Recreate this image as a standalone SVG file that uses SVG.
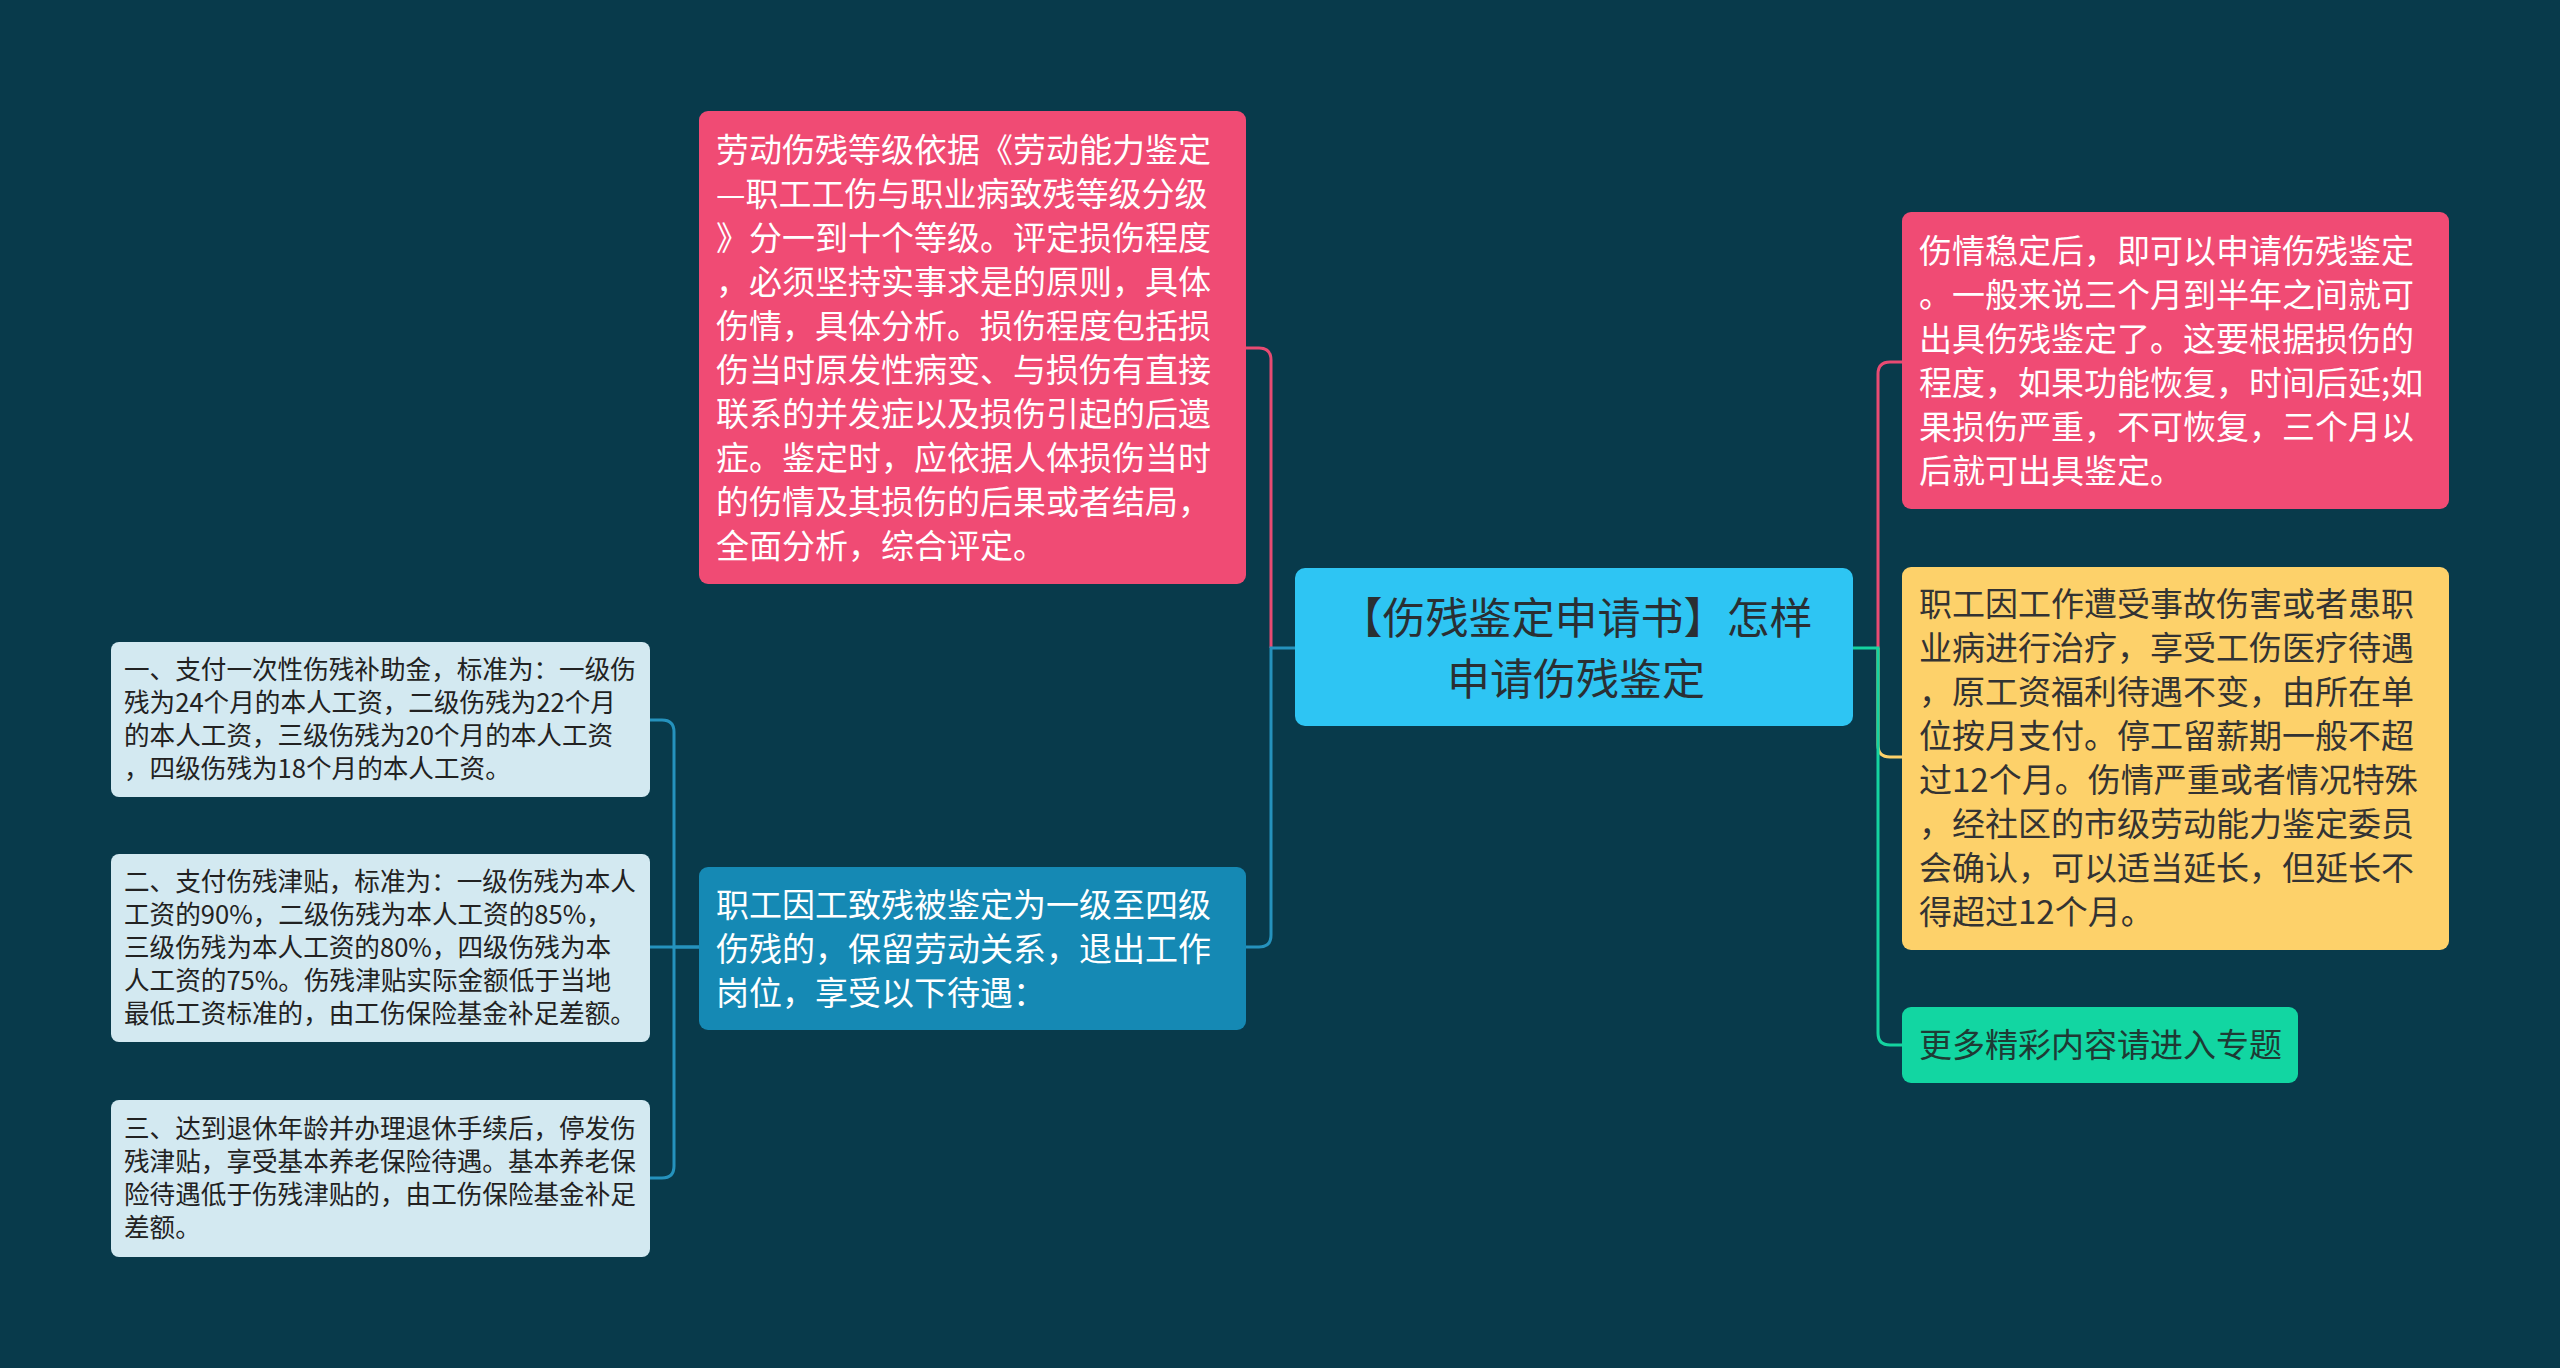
<svg xmlns="http://www.w3.org/2000/svg" width="2560" height="1368" viewBox="0 0 2560 1368">
<style>
text{font-family:"Noto Sans CJK SC","Noto Sans",sans-serif;}
.big{font-size:33px;}
.small{font-size:25.6px;fill:#222222;}
.white{fill:#ffffff;}
.dark{fill:#333333;}
.center{font-size:43px;fill:#2a2f33;}
.line{fill:none;stroke-width:3;}
</style>
<rect x="0" y="0" width="2560" height="1368" fill="#083a4b"/>
<g id="connectors">
<path class="line" stroke="#e84a72" d="M1271,648 V360 Q1271,348 1259,348 H1246"/>
<path class="line" stroke="#2592bd" d="M1295,648 H1271 V935 Q1271,947 1259,947 H1246"/>
<path class="line" stroke="#e84a72" d="M1878,648 V374 Q1878,362 1890,362 H1902"/>
<path class="line" stroke="#fdd16a" d="M1878,648 V745 Q1878,757 1890,757 H1902"/>
<path class="line" stroke="#14d3a0" d="M1853,648 H1878 V1033 Q1878,1045 1890,1045 H1902"/>
<path class="line" stroke="#2592bd" d="M699,947 H674 V732 Q674,720 662,720 H650"/>
<path class="line" stroke="#2592bd" d="M699,947 H650"/>
<path class="line" stroke="#2592bd" d="M674,947 V1166 Q674,1178 662,1178 H650"/>
</g>
<g id="root">
<rect x="1295" y="568" width="558" height="158" rx="10" fill="#2ec5f3"/>
<text class="center" text-anchor="middle" x="1576" y="634">【伤残鉴定申请书】怎样</text>
<text class="center" text-anchor="middle" x="1576" y="695">申请伤残鉴定</text>
</g>
<g id="node-left-pink">
<rect x="699" y="111" width="547" height="473" rx="9" fill="#f04b74"/>
<text class="big white"><tspan x="716" y="162">劳动伤残等级依据《劳动能力鉴定</tspan><tspan x="716" y="206">—职工工伤与职业病致残等级分级</tspan><tspan x="716" y="250">》分一到十个等级。评定损伤程度</tspan><tspan x="716" y="294">，必须坚持实事求是的原则，具体</tspan><tspan x="716" y="338">伤情，具体分析。损伤程度包括损</tspan><tspan x="716" y="382">伤当时原发性病变、与损伤有直接</tspan><tspan x="716" y="426">联系的并发症以及损伤引起的后遗</tspan><tspan x="716" y="470">症。鉴定时，应依据人体损伤当时</tspan><tspan x="716" y="514">的伤情及其损伤的后果或者结局，</tspan><tspan x="716" y="558">全面分析，综合评定。</tspan></text>
</g>
<g id="node-left-blue">
<rect x="699" y="867" width="547" height="163" rx="9" fill="#1589b4"/>
<text class="big white"><tspan x="716" y="917">职工因工致残被鉴定为一级至四级</tspan><tspan x="716" y="961">伤残的，保留劳动关系，退出工作</tspan><tspan x="716" y="1005">岗位，享受以下待遇：</tspan></text>
</g>
<g id="node-sub-1">
<rect x="111" y="642" width="539" height="155" rx="8" fill="#d3e9f1"/>
<text class="small"><tspan x="124" y="679">一、支付一次性伤残补助金，标准为：一级伤</tspan><tspan x="124" y="712">残为24个月的本人工资，二级伤残为22个月</tspan><tspan x="124" y="745">的本人工资，三级伤残为20个月的本人工资</tspan><tspan x="124" y="778">，四级伤残为18个月的本人工资。</tspan></text>
</g>
<g id="node-sub-2">
<rect x="111" y="854" width="539" height="188" rx="8" fill="#d3e9f1"/>
<text class="small"><tspan x="124" y="891">二、支付伤残津贴，标准为：一级伤残为本人</tspan><tspan x="124" y="924">工资的90%，二级伤残为本人工资的85%，</tspan><tspan x="124" y="957">三级伤残为本人工资的80%，四级伤残为本</tspan><tspan x="124" y="990">人工资的75%。伤残津贴实际金额低于当地</tspan><tspan x="124" y="1023">最低工资标准的，由工伤保险基金补足差额。</tspan></text>
</g>
<g id="node-sub-3">
<rect x="111" y="1100" width="539" height="157" rx="8" fill="#d3e9f1"/>
<text class="small"><tspan x="124" y="1138">三、达到退休年龄并办理退休手续后，停发伤</tspan><tspan x="124" y="1171">残津贴，享受基本养老保险待遇。基本养老保</tspan><tspan x="124" y="1204">险待遇低于伤残津贴的，由工伤保险基金补足</tspan><tspan x="124" y="1237">差额。</tspan></text>
</g>
<g id="node-right-pink">
<rect x="1902" y="212" width="547" height="297" rx="9" fill="#f04b74"/>
<text class="big white"><tspan x="1919" y="263">伤情稳定后，即可以申请伤残鉴定</tspan><tspan x="1919" y="307">。一般来说三个月到半年之间就可</tspan><tspan x="1919" y="351">出具伤残鉴定了。这要根据损伤的</tspan><tspan x="1919" y="395">程度，如果功能恢复，时间后延;如</tspan><tspan x="1919" y="439">果损伤严重，不可恢复，三个月以</tspan><tspan x="1919" y="483">后就可出具鉴定。</tspan></text>
</g>
<g id="node-right-yellow">
<rect x="1902" y="567" width="547" height="383" rx="9" fill="#fdd16a"/>
<text class="big dark"><tspan x="1919" y="616">职工因工作遭受事故伤害或者患职</tspan><tspan x="1919" y="660">业病进行治疗，享受工伤医疗待遇</tspan><tspan x="1919" y="704">，原工资福利待遇不变，由所在单</tspan><tspan x="1919" y="748">位按月支付。停工留薪期一般不超</tspan><tspan x="1919" y="792">过12个月。伤情严重或者情况特殊</tspan><tspan x="1919" y="836">，经社区的市级劳动能力鉴定委员</tspan><tspan x="1919" y="880">会确认，可以适当延长，但延长不</tspan><tspan x="1919" y="924">得超过12个月。</tspan></text>
</g>
<g id="node-right-green">
<rect x="1902" y="1007" width="396" height="76" rx="9" fill="#12d6a2"/>
<text class="big" fill="#1e3a34"><tspan x="1919" y="1057">更多精彩内容请进入专题</tspan></text>
</g>
</svg>
